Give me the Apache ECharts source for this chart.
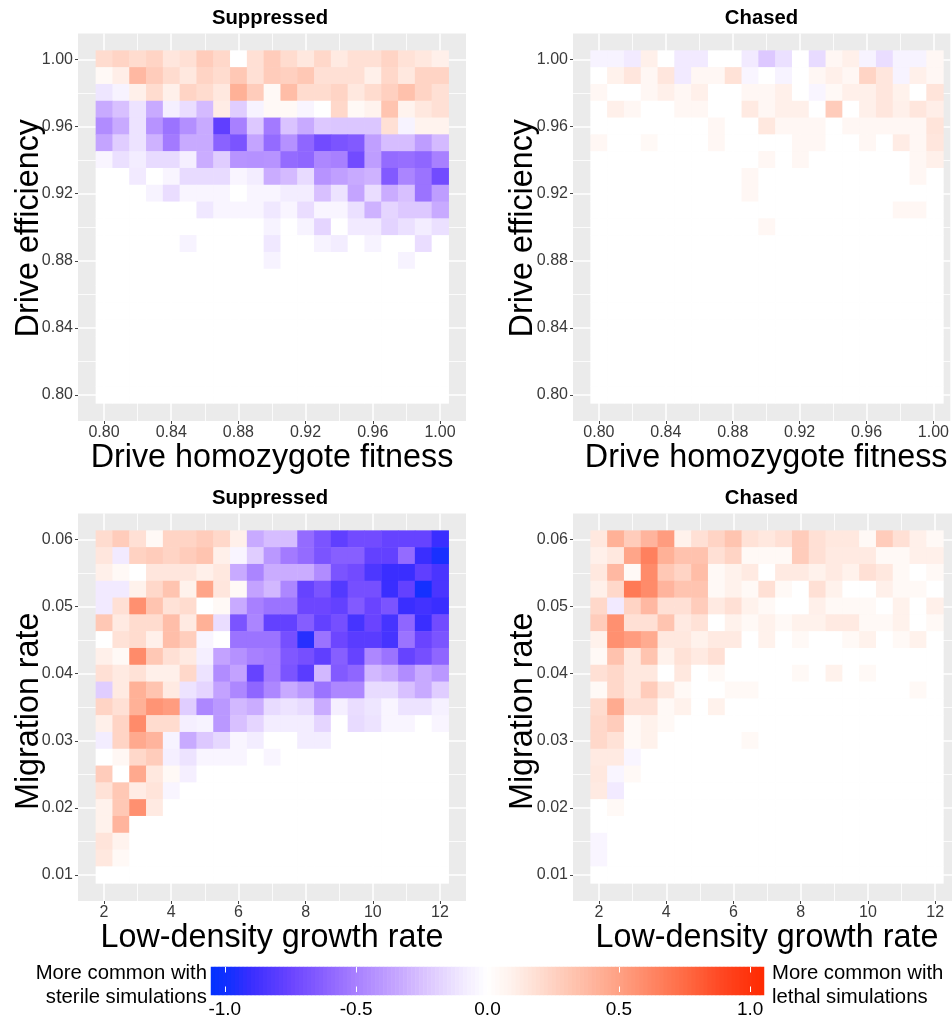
<!DOCTYPE html>
<html><head><meta charset="utf-8">
<style>html,body{margin:0;padding:0;background:#fff}#c{width:952px;height:1019px}</style>
<script src="https://cdn.jsdelivr.net/npm/echarts@6/dist/echarts.min.js"></script>
</head><body><div id="c"></div>
<script>
// Category levels (rows are listed top row first)
const fitnessLevels = ['0.80','0.81','0.82','0.83','0.84','0.85','0.86','0.87','0.88','0.89','0.90','0.91','0.92','0.93','0.94','0.95','0.96','0.97','0.98','0.99','1.00'];
const efficiencyLevels = ['1.00','0.99','0.98','0.97','0.96','0.95','0.94','0.93','0.92','0.91','0.90','0.89','0.88','0.87','0.86','0.85','0.84','0.83','0.82','0.81','0.80'];
const growthLevels = ['2','2.5','3','3.5','4','4.5','5','5.5','6','6.5','7','7.5','8','8.5','9','9.5','10','10.5','11','11.5','12'];
const migrationLevels = ['0.06','0.0575','0.055','0.0525','0.05','0.0475','0.045','0.0425','0.04','0.0375','0.035','0.0325','0.03','0.0275','0.025','0.0225','0.02','0.0175','0.015','0.0125','0.01'];

// Tick values
const fitnessTicks = [0.80,0.84,0.88,0.92,0.96,1.00];
const fitnessMinor = [0.82,0.86,0.90,0.94,0.98];
const growthTicks = [2,4,6,8,10,12];
const growthMinor = [3,5,7,9,11];
const migrationTicks = [0.01,0.02,0.03,0.04,0.05,0.06];
const migrationMinor = [0.015,0.025,0.035,0.045,0.055];
const legendTicks = [-1,-0.5,0,0.5,1];

// Colour scale
const scaleValues = [-1.06,-0.97,-0.9,-0.75,-0.6,-0.5,-0.35,-0.25,-0.1,0,0.1,0.25,0.5,0.75,0.9,1.06];
const scaleColors = ['#0030ff','#1830ff','#3a2eff','#6a44ff','#8f66ff','#a880ff','#c4a4ff','#d8c0ff','#f0e8ff','#ffffff','#fff0ea','#ffd2c2','#ffa184','#ff6b45','#ff4520','#ff2800'];

// Cell values in hundredths, one list per row
const suppressedFitness = [
[20,24,20,24,15,18,28,22,0,18,28,20,14,22,13,18,18,24,17,14,10],
[4,11,38,28,20,14,24,20,30,18,28,26,30,18,18,18,10,22,14,24,24],
[-11,-5,10,20,10,24,20,14,42,28,4,36,20,20,24,14,20,26,34,24,18],
[-33,-25,-12,-33,-7,-14,-27,12,-20,-5,4,4,-4,0,22,4,8,32,8,14,18],
[-45,-33,-12,-42,-55,-44,-33,-78,-50,-22,-52,-24,-33,-22,-23,-23,-23,18,-5,8,8],
[-35,-20,-12,-30,-52,-33,-33,-62,-68,-35,-58,-43,-60,-72,-68,-65,-37,-26,-26,-38,-27],
[-4,-13,-8,-15,-15,-7,-32,-20,-42,-43,-42,-58,-60,-47,-50,-72,-38,-58,-57,-60,-50],
[0,0,-9,0,-4,-15,-15,-15,-4,-8,-32,-27,-15,-42,-37,-33,-30,-65,-48,-55,-72],
[0,0,0,-5,-14,-4,-4,-4,0,-4,-4,-8,-8,-25,-12,-35,-14,-32,-25,-55,-38],
[0,0,0,0,0,0,-10,-4,-4,-4,-10,-4,-14,-4,-4,-13,-30,-17,-22,-22,-33],
[0,0,0,0,0,0,0,0,0,0,-5,0,-5,-17,0,-9,-9,-18,-13,-8,-13],
[0,0,0,0,0,-5,0,0,0,0,-10,0,0,-5,-8,0,-5,0,0,-14,0],
[0,0,0,0,0,0,0,0,0,0,-5,0,0,0,0,0,0,0,-5,0,0],
[0,0,0,0,0,0,0,0,0,0,0,0,0,0,0,0,0,0,0,0,0],
[0,0,0,0,0,0,0,0,0,0,0,0,0,0,0,0,0,0,0,0,0],
[0,0,0,0,0,0,0,0,0,0,0,0,0,0,0,0,0,0,0,0,0],
[0,0,0,0,0,0,0,0,0,0,0,0,0,0,0,0,0,0,0,0,0],
[0,0,0,0,0,0,0,0,0,0,0,0,0,0,0,0,0,0,0,0,0],
[0,0,0,0,0,0,0,0,0,0,0,0,0,0,0,0,0,0,0,0,0],
[0,0,0,0,0,0,0,0,0,0,0,0,0,0,0,0,0,0,0,0,0],
[0,0,0,0,0,0,0,0,0,0,0,0,0,0,0,0,0,0,0,0,0]];
const chasedFitness = [
[-5,-5,-9,10,0,-9,-9,0,0,-9,-22,-13,0,-15,5,10,-5,-14,-5,-5,5],
[0,9,15,5,15,-9,5,5,17,-4,0,-5,0,5,10,5,24,15,-5,10,5],
[5,0,0,5,10,5,10,0,0,5,5,10,0,-4,4,10,10,15,9,0,16],
[0,10,5,0,0,5,5,0,0,13,5,10,10,0,28,0,10,15,10,15,11],
[0,0,0,0,0,0,0,5,0,0,14,5,5,5,0,5,5,5,5,5,16],
[5,0,0,4,0,0,0,5,0,0,0,0,5,5,0,0,5,0,12,5,15],
[0,0,0,0,0,0,0,0,0,0,5,0,5,0,0,0,0,0,0,5,10],
[0,0,0,0,0,0,0,0,0,5,0,0,0,0,0,0,0,0,0,5,0],
[0,0,0,0,0,0,0,0,0,5,0,0,0,0,0,0,0,0,0,0,0],
[0,0,0,0,0,0,0,0,0,0,0,0,0,0,0,0,0,0,5,5,0],
[0,0,0,0,0,0,0,0,0,0,5,0,0,0,0,0,0,0,0,0,0],
[0,0,0,0,0,0,0,0,0,0,0,0,0,0,0,0,0,0,0,0,0],
[0,0,0,0,0,0,0,0,0,0,0,0,0,0,0,0,0,0,0,0,0],
[0,0,0,0,0,0,0,0,0,0,0,0,0,0,0,0,0,0,0,0,0],
[0,0,0,0,0,0,0,0,0,0,0,0,0,0,0,0,0,0,0,0,0],
[0,0,0,0,0,0,0,0,0,0,0,0,0,0,0,0,0,0,0,0,0],
[0,0,0,0,0,0,0,0,0,0,0,0,0,0,0,0,0,0,0,0,0],
[0,0,0,0,0,0,0,0,0,0,0,0,0,0,0,0,0,0,0,0,0],
[0,0,0,0,0,0,0,0,0,0,0,0,0,0,0,0,0,0,0,0,0],
[0,0,0,0,0,0,0,0,0,0,0,0,0,0,0,0,0,0,0,0,0],
[0,0,0,0,0,0,0,0,0,0,0,0,0,0,0,0,0,0,0,0,0]];
const suppressedGrowth = [
[20,28,18,4,24,24,28,22,10,-33,-26,-26,-58,-68,-78,-72,-72,-76,-76,-76,-90],
[15,-9,25,28,24,28,32,10,-4,-20,-40,-52,-58,-68,-63,-63,-77,-77,-58,-90,-97],
[10,4,0,15,15,15,10,14,-33,-48,-32,-32,-32,-45,-68,-72,-84,-90,-90,-78,-85],
[-9,-9,9,22,32,9,48,15,4,-36,-28,-47,-76,-68,-82,-70,-70,-90,-77,-98,-85],
[-9,18,58,32,17,20,0,4,-33,-50,-55,-55,-74,-74,-77,-65,-75,-68,-90,-87,-90],
[30,13,20,20,35,13,42,-14,-68,-48,-77,-77,-64,-77,-70,-86,-75,-86,-60,-90,-72],
[0,17,20,10,35,27,-4,0,-55,-55,-55,-70,-94,-55,-74,-80,-80,-86,-55,-75,-68],
[10,4,60,30,18,13,-7,-36,-43,-50,-52,-66,-70,-78,-63,-76,-47,-55,-76,-70,-60],
[18,13,17,10,10,22,-12,-45,-36,-76,-52,-68,-80,-28,-65,-60,-28,-33,-45,-33,-40],
[-20,13,42,32,13,-12,-17,-36,-47,-60,-47,-33,-40,-55,-47,-47,-15,-15,-25,-33,-20],
[24,18,42,56,52,-20,-47,-40,-28,-32,-15,-12,-15,-32,-7,-14,-11,-4,-12,-12,-6],
[10,24,60,20,20,-7,-5,-40,-25,-17,-8,-8,-8,-17,0,-15,-12,-4,-4,0,-4],
[-8,24,46,40,-5,-33,-22,-16,-4,-8,0,0,-8,-8,0,0,0,0,0,0,0],
[0,5,22,28,-7,-12,-4,-4,-4,0,-4,0,0,0,0,0,0,0,0,0,0],
[28,0,46,14,4,-7,0,0,0,0,0,0,0,0,0,0,0,0,0,0,0],
[17,30,12,16,-4,0,0,0,0,0,0,0,0,0,0,0,0,0,0,0,0],
[9,30,58,13,0,0,0,0,0,0,0,0,0,0,0,0,0,0,0,0,0],
[9,40,0,0,0,0,0,0,0,0,0,0,0,0,0,0,0,0,0,0,0],
[16,8,0,0,0,0,0,0,0,0,0,0,0,0,0,0,0,0,0,0,0],
[14,4,0,0,0,0,0,0,0,0,0,0,0,0,0,0,0,0,0,0,0],
[0,0,0,0,0,0,0,0,0,0,0,0,0,0,0,0,0,0,0,0,0]];
const chasedGrowth = [
[14,42,28,40,52,9,18,24,32,17,14,18,28,18,14,14,4,28,18,10,4],
[10,14,48,65,42,33,33,18,24,4,4,4,28,18,13,13,13,4,4,10,10],
[14,38,4,60,30,24,36,4,9,13,0,13,13,9,13,9,18,14,4,0,4],
[10,22,68,60,40,32,32,4,9,4,18,4,0,18,9,0,0,10,4,4,0],
[22,-9,24,38,18,18,28,13,18,9,4,0,0,10,4,4,4,0,9,0,10],
[28,58,18,18,32,13,17,0,9,4,9,4,9,9,13,13,4,4,9,0,4],
[9,58,52,45,14,14,9,13,13,0,9,0,4,0,0,4,9,0,4,9,0],
[4,33,14,32,9,17,13,18,0,0,0,0,0,0,0,0,0,0,0,0,0],
[18,22,14,14,0,14,0,4,0,0,0,0,4,0,9,0,4,0,0,0,0],
[4,22,14,28,14,4,0,0,4,4,0,0,0,0,0,0,0,0,0,4,0],
[20,45,18,18,4,9,0,9,0,0,0,0,0,0,0,0,0,0,0,0,0],
[22,28,4,9,4,0,0,0,0,0,0,0,0,0,0,0,0,0,0,0,0],
[22,17,4,9,0,0,0,0,0,4,0,0,0,0,0,0,0,0,0,0,0],
[13,13,-4,0,0,0,0,0,0,0,0,0,0,0,0,0,0,0,0,0,0],
[14,-4,4,0,0,0,0,0,0,0,0,0,0,0,0,0,0,0,0,0,0],
[13,-9,0,0,0,0,0,0,0,0,0,0,0,0,0,0,0,0,0,0,0],
[0,4,0,0,0,0,0,0,0,0,0,0,0,0,0,0,0,0,0,0,0],
[0,0,0,0,0,0,0,0,0,0,0,0,0,0,0,0,0,0,0,0,0],
[-4,0,0,0,0,0,0,0,0,0,0,0,0,0,0,0,0,0,0,0,0],
[-4,0,0,0,0,0,0,0,0,0,0,0,0,0,0,0,0,0,0,0,0],
[0,0,0,0,0,0,0,0,0,0,0,0,0,0,0,0,0,0,0,0,0]];

const FONT = '"Liberation Sans", Arial, sans-serif';
const LEG = 1.0525;

function hexRgb(h){return [1,3,5].map(i=>parseInt(h.slice(i,i+2),16));}
function scaleColor(v){
  let k=0;while(k<scaleValues.length-2&&v>scaleValues[k+1])k++;
  const t=(v-scaleValues[k])/(scaleValues[k+1]-scaleValues[k]);
  const a=hexRgb(scaleColors[k]),b=hexRgb(scaleColors[k+1]);
  return 'rgb('+a.map((c,i)=>Math.round(c+(b[i]-c)*t)).join(',')+')';
}
const stops=[];for(let i=0;i<=168;i++)stops.push(scaleColor(-LEG+2*LEG*i/168));

// Colour bar gradient: fine steps along the scale, not chart data
const BAR_STEPS=138;
const legendBins=[];for(let i=0;i<BAR_STEPS;i++)legendBins.push(-LEG+2*LEG*(i+0.5)/BAR_STEPS);

const panels=[
 {title:'Suppressed',rows:suppressedFitness,xc:fitnessLevels,yc:efficiencyLevels,xt:fitnessTicks,xm:fitnessMinor,yt:fitnessTicks,ym:fitnessMinor,
  xr:[0.7845,1.0155],yr:[0.7845,1.0155],xn:'Drive homozygote fitness',yn:'Drive efficiency',fx:v=>v.toFixed(2),fy:v=>v.toFixed(2),px:78,pw:388,py:33.5,cx:95.9,cy:50.6,tx:270,ypad:2,ngap:33,xpad:0},
 {title:'Chased',rows:chasedFitness,xc:fitnessLevels,yc:efficiencyLevels,xt:fitnessTicks,xm:fitnessMinor,yt:fitnessTicks,ym:fitnessMinor,
  xr:[0.7845,1.0101],yr:[0.7845,1.0155],xn:'Drive homozygote fitness',yn:'Drive efficiency',fx:v=>v.toFixed(2),fy:v=>v.toFixed(2),px:573,pw:379,py:33.5,cx:590.6,cy:50.6,tx:761.5,ypad:2,ngap:34,xpad:9},
 {title:'Suppressed',rows:suppressedGrowth,xc:growthLevels,yc:migrationLevels,xt:growthTicks,xm:growthMinor,yt:migrationTicks,ym:migrationMinor,
  xr:[1.225,12.775],yr:[0.00613,0.06387],xn:'Low-density growth rate',yn:'Migration rate',fx:v=>String(v),fy:v=>v.toFixed(2),px:78,pw:388,py:513.5,cx:95.9,cy:530.6,tx:270,ypad:8,ngap:33,xpad:0},
 {title:'Chased',rows:chasedGrowth,xc:growthLevels,yc:migrationLevels,xt:growthTicks,xm:growthMinor,yt:migrationTicks,ym:migrationMinor,
  xr:[1.225,12.5],yr:[0.00613,0.06387],xn:'Low-density growth rate',yn:'Migration rate',fx:v=>String(v),fy:v=>v.toFixed(2),px:573,pw:379,py:513.5,cx:590.6,cy:530.6,tx:761.5,ypad:8,ngap:34,xpad:9}
];

const grid=[],xAxis=[],yAxis=[],series=[],title=[];
const CELL=352.8, PH=387.5;
const lbl={color:'#3a3a3a',fontFamily:FONT,fontSize:16};
panels.forEach(p=>{
  const g0=grid.length;
  grid.push({left:p.px,top:p.py,width:p.pw,height:PH,show:true,backgroundColor:'#ebebeb',borderWidth:0});
  grid.push({left:p.cx,top:p.cy,width:CELL,height:CELL,show:false});
  const major={show:true,lineStyle:{color:'#fff',width:1.5}}, minor={show:true,lineStyle:{color:'#fff',width:0.8}};
  const tick=(vals,show)=>({show,length:3,lineStyle:{color:'#444',width:1},customValues:vals});
  // major axes
  xAxis.push({type:'value',gridIndex:g0,position:'bottom',min:p.xr[0],max:p.xr[1],axisLine:{show:false},axisTick:tick(p.xt,true),
    axisLabel:Object.assign({show:true,margin:4,customValues:p.xt,formatter:p.fx,hideOverlap:false},lbl),splitLine:major,
    name:p.xn,nameLocation:'middle',nameGap:21,nameMoveOverlap:false,nameTextStyle:{fontFamily:FONT,fontSize:32.3,color:'#000',verticalAlign:'top',padding:[0,0,0,p.xpad]}});
  yAxis.push({type:'value',gridIndex:g0,position:'left',min:p.yr[0],max:p.yr[1],axisLine:{show:false},axisTick:tick(p.yt,true),
    axisLabel:Object.assign({show:true,margin:5,customValues:p.yt,formatter:p.fy,hideOverlap:false,padding:[2,0,0,0]},lbl),splitLine:major,
    name:p.yn,nameLocation:'middle',nameGap:p.ngap,nameMoveOverlap:false,nameTextStyle:{fontFamily:FONT,fontSize:32.3,color:'#000',padding:[0,p.ypad,0,0]}});
  // minor axes
  xAxis.push({type:'value',gridIndex:g0,position:'top',min:p.xr[0],max:p.xr[1],axisLine:{show:false},axisTick:tick(p.xm,false),axisLabel:{show:false},splitLine:minor});
  yAxis.push({type:'value',gridIndex:g0,position:'right',min:p.yr[0],max:p.yr[1],axisLine:{show:false},axisTick:tick(p.ym,false),axisLabel:{show:false},splitLine:minor});
  // cell axes
  const xi=xAxis.length, yi=yAxis.length;
  xAxis.push({type:'category',gridIndex:g0+1,data:p.xc,show:false});
  yAxis.push({type:'category',gridIndex:g0+1,data:p.yc,inverse:true,show:false});
  const data=[];
  p.rows.forEach((r,j)=>r.forEach((v,i)=>data.push([i,j,v/100])));
  series.push({type:'heatmap',name:p.title,xAxisIndex:xi,yAxisIndex:yi,data,progressive:0,silent:true,itemStyle:{borderWidth:0}});
  title.push({text:p.title,left:p.tx,top:p.py-25,textAlign:'center',padding:0,textStyle:{fontFamily:FONT,fontSize:20.3,fontWeight:'bold',color:'#000'}});
});

// colour bar: a one-row heatmap plus a tick axis laid over it
const lg=grid.length;
grid.push({left:211,top:967,width:553,height:28,show:false});
grid.push({left:211,top:967,width:553,height:28,show:false});
const legendTick={show:true,inside:true,length:5.5,lineStyle:{color:'#fff',width:1},customValues:legendTicks};
xAxis.push({type:'value',gridIndex:lg,position:'bottom',min:-LEG,max:LEG,z:10,axisLine:{show:false},axisTick:legendTick,splitLine:{show:false},
  axisLabel:{show:true,customValues:legendTicks,formatter:v=>v.toFixed(1),margin:8,color:'#000',fontFamily:FONT,fontSize:19,hideOverlap:false}});
xAxis.push({type:'value',gridIndex:lg,position:'top',min:-LEG,max:LEG,z:10,axisLine:{show:false},axisTick:legendTick,splitLine:{show:false},axisLabel:{show:false}});
yAxis.push({type:'value',gridIndex:lg,min:0,max:1,show:false});
const lxi=xAxis.length, lyi=yAxis.length;
xAxis.push({type:'category',gridIndex:lg+1,data:legendBins.map(String),show:false});
yAxis.push({type:'category',gridIndex:lg+1,data:['bar'],show:false});
series.push({type:'heatmap',name:'legend',xAxisIndex:lxi,yAxisIndex:lyi,data:legendBins.map((v,i)=>[i,0,v]),progressive:0,silent:true,z:1,itemStyle:{borderWidth:0}});

const caption=(text,x,y,align)=>({type:'text',x,y,style:{text,fontFamily:FONT,fontSize:20.3,fill:'#000',align,verticalAlign:'middle'}});

const chart=echarts.init(document.getElementById('c'),null,{renderer:'canvas'});
chart.setOption({
  animation:false,backgroundColor:'#fff',tooltip:{show:false},
  title,grid,xAxis,yAxis,series,
  visualMap:{type:'continuous',show:false,min:-LEG,max:LEG,seriesIndex:[0,1,2,3,4],calculable:false,inRange:{color:stops}},
  graphic:[caption('More common with',207,973,'right'),caption('sterile simulations',207,997,'right'),
           caption('More common with',772,973,'left'),caption('lethal simulations',772,997,'left')]
});
</script></body></html>
